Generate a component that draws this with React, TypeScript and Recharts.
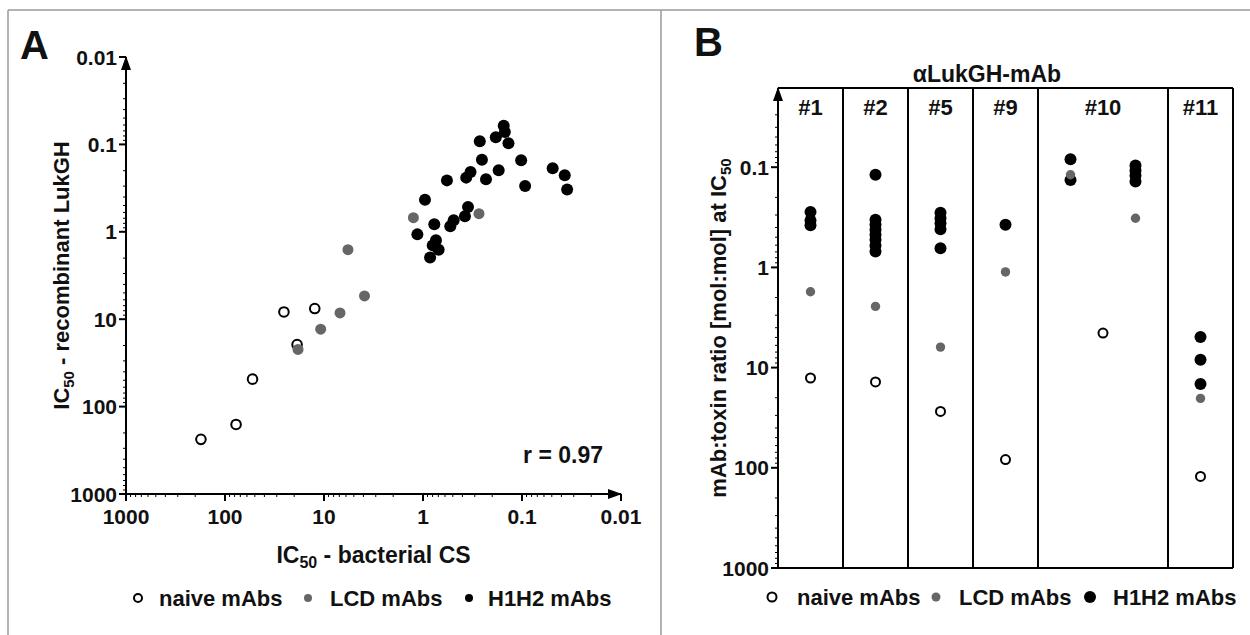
import React from "react";
import { ScatterChart, Scatter, XAxis, YAxis, ReferenceLine, ReferenceDot } from "recharts";

const FONT = "'Liberation Sans', Arial, Helvetica, sans-serif";
const GREY = "#666666";
const INK = "#111111";

// Panel A: IC50 bacterial culture supernatant (x) vs IC50 recombinant LukGH (y)
const naiveA = [
  { x: 25.4, y: 8.26 },
  { x: 12.4, y: 7.55 },
  { x: 18.7, y: 19.5 },
  { x: 52.7, y: 48.5 },
  { x: 77.3, y: 160 },
  { x: 175, y: 237 },
];
const lcdA = [
  { x: 1.25, y: 0.689 },
  { x: 0.272, y: 0.62 },
  { x: 5.73, y: 1.6 },
  { x: 3.9, y: 5.42 },
  { x: 6.89, y: 8.47 },
  { x: 10.8, y: 13.0 },
  { x: 18.3, y: 22.2 },
];
const h1h2A = [
  { x: 0.153, y: 0.061 },
  { x: 0.149, y: 0.072 },
  { x: 0.184, y: 0.083 },
  { x: 0.137, y: 0.097 },
  { x: 0.267, y: 0.092 },
  { x: 0.254, y: 0.15 },
  { x: 0.102, y: 0.152 },
  { x: 0.172, y: 0.198 },
  { x: 0.231, y: 0.251 },
  { x: 0.366, y: 0.24 },
  { x: 0.331, y: 0.207 },
  { x: 0.573, y: 0.258 },
  { x: 0.093, y: 0.3 },
  { x: 0.049, y: 0.187 },
  { x: 0.037, y: 0.226 },
  { x: 0.035, y: 0.329 },
  { x: 0.955, y: 0.429 },
  { x: 0.351, y: 0.521 },
  { x: 0.377, y: 0.665 },
  { x: 0.49, y: 0.739 },
  { x: 0.53, y: 0.866 },
  { x: 0.769, y: 0.82 },
  { x: 1.14, y: 1.07 },
  { x: 0.798, y: 1.43 },
  { x: 0.695, y: 1.6 },
  { x: 0.848, y: 1.97 },
  { x: 0.74, y: 1.25 },
];
const decadesA = [0.01, 0.1, 1, 10, 100, 1000];
const decadeLabelsA = ["0.01", "0.1", "1", "10", "100", "1000"];

// Panel B: mAb:toxin ratio per antibody; lane = column slot on the x axis
const columnsB = ["#1", "#2", "#5", "#9", "#10", "#11"];
const columnLanesB = [1, 2, 3, 4, 5.5, 7];
const dividerLanesB = [1.5, 2.5, 3.5, 4.5, 6.5];
const naiveB = [
  { lane: 1, ratio: 12.7 },
  { lane: 2, ratio: 13.9 },
  { lane: 3, ratio: 27.4 },
  { lane: 4, ratio: 82.8 },
  { lane: 5.5, ratio: 4.52 },
  { lane: 7, ratio: 122 },
];
const lcdB = [
  { lane: 1, ratio: 1.75 },
  { lane: 2, ratio: 2.45 },
  { lane: 3, ratio: 6.24 },
  { lane: 4, ratio: 1.11 },
  { lane: 5, ratio: 0.119 },
  { lane: 6, ratio: 0.323 },
  { lane: 7, ratio: 20.3 },
];
const h1h2B = [
  { lane: 1, ratio: 0.28 },
  { lane: 1, ratio: 0.34 },
  { lane: 1, ratio: 0.38 },
  { lane: 2, ratio: 0.119 },
  { lane: 2, ratio: 0.335 },
  { lane: 2, ratio: 0.376 },
  { lane: 2, ratio: 0.422 },
  { lane: 2, ratio: 0.473 },
  { lane: 2, ratio: 0.531 },
  { lane: 2, ratio: 0.605 },
  { lane: 2, ratio: 0.695 },
  { lane: 3, ratio: 0.284 },
  { lane: 3, ratio: 0.323 },
  { lane: 3, ratio: 0.362 },
  { lane: 3, ratio: 0.415 },
  { lane: 3, ratio: 0.643 },
  { lane: 4, ratio: 0.376 },
  { lane: 5, ratio: 0.0832 },
  { lane: 5, ratio: 0.134 },
  { lane: 6, ratio: 0.0964 },
  { lane: 6, ratio: 0.108 },
  { lane: 6, ratio: 0.121 },
  { lane: 6, ratio: 0.139 },
  { lane: 7, ratio: 4.96 },
  { lane: 7, ratio: 8.34 },
  { lane: 7, ratio: 14.6 },
];
const decadesB = [0.1, 1, 10, 100, 1000];
const decadeLabelsB = ["0.1", "1", "10", "100", "1000"];
const B_TOP = 0.0162;
const B_LABEL_Y = 0.0253;

// log axis ticks: decades plus 2..9 minors
function logTicks(lo: number, hi: number) {
  const out: number[] = [];
  for (const d of [0.001, 0.01, 0.1, 1, 10, 100]) {
    for (let k = 1; k < 10; k++) {
      const v = k === 1 ? d : +(d * k).toPrecision(3);
      if (v >= lo && v <= hi) out.push(v);
    }
  }
  if (hi === 1000) out.push(1000);
  return out;
}

const txt = { fontFamily: FONT, fontWeight: 700, fill: INK } as const;

const leftTick = (decades: number[], labels: string[], size: number) => (p: any) => {
  const i = decades.indexOf(p.payload.value);
  const major = i >= 0;
  return (
    <g>
      <line x1={p.x} x2={p.x - (major ? 7 : 3)} y1={p.y} y2={p.y} stroke="#000" strokeWidth={major ? 2 : 1} />
      {major && (
        <text x={p.x - 9} y={p.y} dy="0.36em" textAnchor="end" fontSize={size} {...txt}>
          {labels[i]}
        </text>
      )}
    </g>
  );
};

const bottomTick = (p: any) => {
  const i = decadesA.indexOf(p.payload.value);
  const major = i >= 0;
  return (
    <g>
      <line x1={p.x} x2={p.x} y1={p.y} y2={p.y + (major ? 7 : 3)} stroke="#000" strokeWidth={major ? 2 : 1} />
      {major && (
        <text x={p.x} y={p.y + 30} textAnchor="middle" fontSize={21} {...txt}>
          {decadeLabelsA[i]}
        </text>
      )}
    </g>
  );
};

const dot = (r: number, fill: string) => (p: any) => <circle cx={p.cx} cy={p.cy} r={r} fill={fill} />;
const ring = (r: number) => (p: any) => (
  <circle cx={p.cx} cy={p.cy} r={r} fill="#fff" stroke="#000" strokeWidth={2} />
);
const arrowUp = (p: any) => (
  <path d={`M${p.cx} ${p.cy - 1} L${p.cx - 5} ${p.cy + 13} L${p.cx + 5} ${p.cy + 13} Z`} fill="#000" />
);
const arrowRight = (p: any) => (
  <path d={`M${p.cx + 1} ${p.cy} L${p.cx - 13} ${p.cy - 5} L${p.cx - 13} ${p.cy + 5} Z`} fill="#000" />
);

const rotatedTitle = (baseX: number, rest: string) => (p: any) => {
  const vb = p.viewBox;
  const cx = vb.x + baseX;
  const cy = vb.y + vb.height / 2;
  return (
    <text x={cx} y={cy} transform={`rotate(-90 ${cx} ${cy})`} textAnchor="middle" fontSize={22} {...txt}>
      IC<tspan fontSize={15} dy={5}>50</tspan>
      <tspan dy={-5}>{rest}</tspan>
    </text>
  );
};

const xTitleA = (p: any) => {
  const vb = p.viewBox;
  return (
    <text x={vb.x + vb.width / 2} y={vb.y + 69} textAnchor="middle" fontSize={23} {...txt}>
      IC<tspan fontSize={16} dy={5}>50</tspan>
      <tspan dy={-5}> - bacterial CS</tspan>
    </text>
  );
};

const yTitleB = (p: any) => {
  const vb = p.viewBox;
  const cx = vb.x + 66;
  const cy = vb.y + vb.height / 2;
  return (
    <text x={cx} y={cy} transform={`rotate(-90 ${cx} ${cy})`} textAnchor="middle" fontSize={22} {...txt}>
      mAb:toxin ratio [mol:mol] at IC<tspan fontSize={15} dy={5}>50</tspan>
    </text>
  );
};

const axisStroke = { stroke: "#000", strokeWidth: 2 };

function Legend({ y, items }: { y: number; items: { mx: number; tx: number; kind: string; r: number; label: string }[] }) {
  return (
    <g>
      {items.map((it) => (
        <g key={it.label}>
          {it.kind === "ring" ? (
            <circle cx={it.mx} cy={y} r={it.r} fill="#fff" stroke="#000" strokeWidth={2} />
          ) : (
            <circle cx={it.mx} cy={y} r={it.r} fill={it.kind === "grey" ? GREY : "#000"} />
          )}
          <text x={it.tx} y={y + 8} fontSize={22} {...txt}>
            {it.label}
          </text>
        </g>
      ))}
    </g>
  );
}

export default function App() {
  const ticksA = logTicks(0.01, 1000);
  const ticksB = logTicks(B_TOP, 1000);
  return (
    <div style={{ position: "absolute", left: 0, top: 0, width: 1250, height: 635, background: "#fff" }}>
      <div style={{ position: "absolute", left: 0, top: 0 }}>
        <ScatterChart width={660} height={635} margin={{ top: 57, right: 39, bottom: 0, left: 0 }}>
          <XAxis
            type="number"
            dataKey="x"
            scale="log"
            domain={[0.01, 1000]}
            reversed
            allowDataOverflow
            ticks={ticksA}
            interval={0}
            tickSize={0}
            tickMargin={0}
            tick={bottomTick}
            axisLine={axisStroke}
            height={141}
            label={xTitleA}
          />
          <YAxis
            type="number"
            dataKey="y"
            scale="log"
            domain={[0.01, 1000]}
            reversed
            allowDataOverflow
            ticks={ticksA}
            interval={0}
            tickSize={0}
            tickMargin={0}
            tick={leftTick(decadesA, decadeLabelsA, 21)}
            axisLine={axisStroke}
            width={126}
            label={rotatedTitle(69, " - recombinant LukGH")}
          />
          <Scatter data={h1h2A} shape={dot(6, "#000")} isAnimationActive={false} />
          <Scatter data={naiveA} shape={ring(4.8)} isAnimationActive={false} />
          <Scatter data={lcdA} shape={dot(5.5, GREY)} isAnimationActive={false} />
          <ReferenceDot x={1000} y={0.01} shape={arrowUp} ifOverflow="visible" />
          <ReferenceDot x={0.01} y={1000} shape={arrowRight} ifOverflow="visible" />
        </ScatterChart>
      </div>
      <div style={{ position: "absolute", left: 660, top: 0 }}>
        <ScatterChart width={590} height={635} margin={{ top: 88, right: 17, bottom: 0, left: 0 }}>
          <XAxis
            type="number"
            dataKey="lane"
            domain={[0.5, 7.5]}
            allowDataOverflow
            tick={false}
            tickLine={false}
            axisLine={axisStroke}
            height={67}
          />
          <YAxis
            type="number"
            dataKey="ratio"
            scale="log"
            domain={[B_TOP, 1000]}
            reversed
            allowDataOverflow
            ticks={ticksB}
            interval={0}
            tickSize={0}
            tickMargin={0}
            tick={leftTick(decadesB, decadeLabelsB, 21)}
            axisLine={axisStroke}
            width={118}
            label={yTitleB}
          />
          <ReferenceLine y={B_TOP} stroke="#000" strokeWidth={2} />
          <ReferenceLine x={7.5} stroke="#000" strokeWidth={2} />
          {dividerLanesB.map((l) => (
            <ReferenceLine key={l} x={l} stroke="#000" strokeWidth={2} />
          ))}
          {columnsB.map((c, i) => (
            <ReferenceDot
              key={c}
              x={columnLanesB[i]}
              y={B_LABEL_Y}
              ifOverflow="visible"
              shape={(p: any) => (
                <text x={p.cx} y={p.cy + 8} textAnchor="middle" fontSize={22} {...txt}>
                  {c}
                </text>
              )}
            />
          ))}
          <Scatter data={h1h2B} shape={dot(6, "#000")} isAnimationActive={false} />
          <Scatter data={naiveB} shape={ring(4.5)} isAnimationActive={false} />
          <Scatter data={lcdB} shape={dot(4.7, GREY)} isAnimationActive={false} />
          <ReferenceDot x={0.5} y={B_TOP} shape={arrowUp} ifOverflow="visible" />
        </ScatterChart>
      </div>
      <svg
        width={1250}
        height={635}
        style={{ position: "absolute", left: 0, top: 0, pointerEvents: "none" }}
      >
        <line x1={8} x2={1250} y1={10} y2={10} stroke="#9a9a9a" strokeWidth={1.5} />
        <line x1={8} x2={8} y1={10} y2={635} stroke="#9a9a9a" strokeWidth={1.5} />
        <line x1={661} x2={661} y1={10} y2={635} stroke="#9a9a9a" strokeWidth={1.5} />
        <text x={20} y={59} fontSize={40} {...txt}>A</text>
        <text x={694} y={56} fontSize={40} {...txt}>B</text>
        <text x={603} y={463} textAnchor="end" fontSize={23} {...txt}>r = 0.97</text>
        <text x={987} y={82} textAnchor="middle" fontSize={23} {...txt}>αLukGH-mAb</text>
        <Legend
          y={598}
          items={[
            { mx: 138, tx: 159, kind: "ring", r: 4, label: "naive mAbs" },
            { mx: 308, tx: 330, kind: "grey", r: 4, label: "LCD mAbs" },
            { mx: 469, tx: 488, kind: "black", r: 4, label: "H1H2 mAbs" },
          ]}
        />
        <Legend
          y={597}
          items={[
            { mx: 772, tx: 797, kind: "ring", r: 4.5, label: "naive mAbs" },
            { mx: 936, tx: 959, kind: "grey", r: 4.5, label: "LCD mAbs" },
            { mx: 1090, tx: 1113, kind: "black", r: 6, label: "H1H2 mAbs" },
          ]}
        />
      </svg>
    </div>
  );
}
